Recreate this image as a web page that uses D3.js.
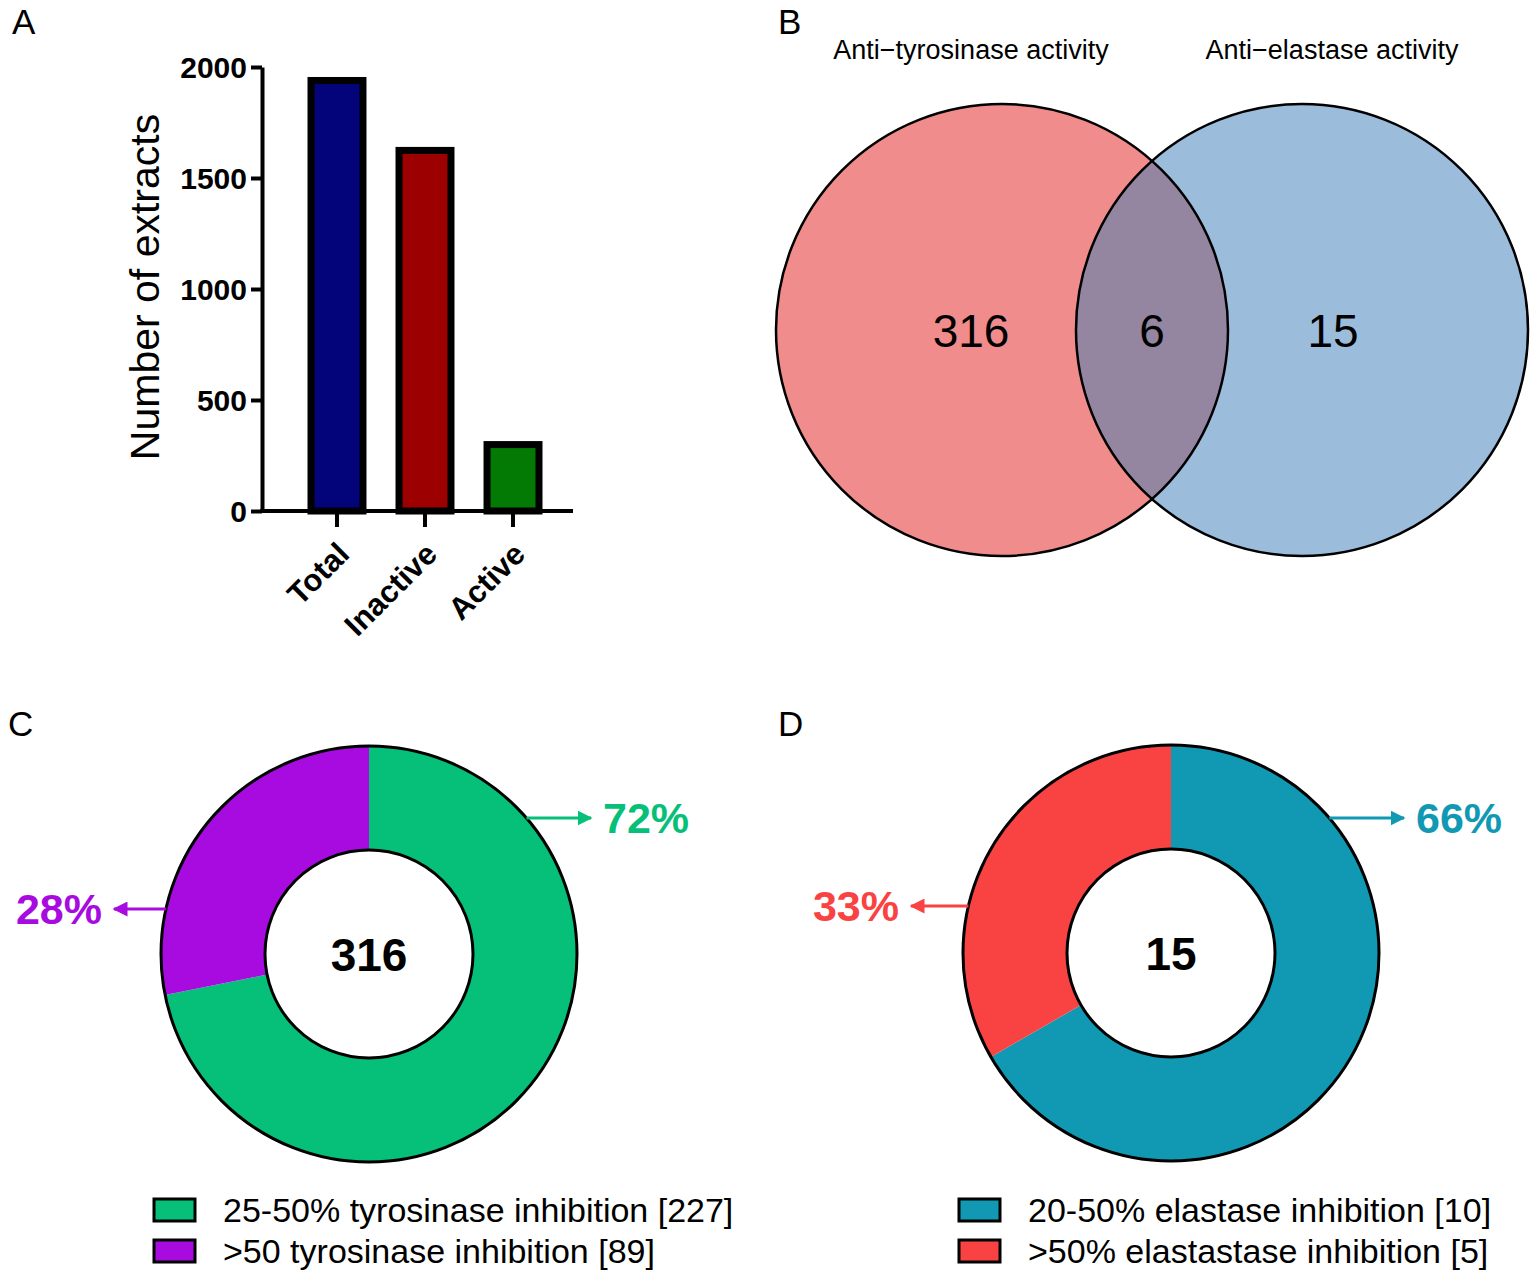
<!DOCTYPE html>
<html>
<head>
<meta charset="utf-8">
<script src="https://cdn.jsdelivr.net/npm/d3@7"></script>
<style>
body { margin: 0; background: #fff; }
svg { display: block; font-family: Arial, "Liberation Sans", sans-serif; }
</style>
</head>
<body>
<svg id="fig" width="1536" height="1274"></svg>
<script>
// panel A data
var barCats = ["Total", "Inactive", "Active"];
var barVals = [1955, 1640, 315];
var barColors = ["#03037a", "#9c0000", "#037a03"];
var yTicks = [0, 500, 1000, 1500, 2000];

// panel B data
var vennTitles = ["Anti\u2212tyrosinase activity", "Anti\u2212elastase activity"];
var vennCounts = [316, 6, 15];

// panel C data
var tyrLabels = ["25-50% tyrosinase inhibition [227]", ">50 tyrosinase inhibition [89]"];
var tyrVals = [227, 89];
var tyrPct = ["72%", "28%"];
var tyrColors = ["#06bf78", "#a70be0"];

// panel D data
var elaLabels = ["20-50% elastase inhibition [10]", ">50% elastastase inhibition [5]"];
var elaVals = [10, 5];
var elaPct = ["66%", "33%"];
var elaColors = ["#1199b4", "#f94343"];

var svg = d3.select("#fig");

// panel letters
var letters = [["A", 12, 34], ["B", 778, 34], ["C", 8, 736], ["D", 778, 736]];
svg.selectAll("text.letter").data(letters).enter().append("text")
    .attr("class", "letter")
    .attr("x", function(d) { return d[1]; })
    .attr("y", function(d) { return d[2]; })
    .style("font-size", "35px")
    .text(function(d) { return d[0]; });

// ---------- A: bar chart ----------
var x = d3.scaleBand().domain(barCats).range([263.5, 586.5]).paddingInner(0.33).paddingOuter(0.5);
var y = d3.scaleLinear().domain([0, 2000]).range([511, 67]);
var bw = 7;

var gA = svg.append("g");
gA.selectAll("rect.bar").data(barVals).enter().append("rect")
    .attr("class", "bar")
    .attr("x", function(d, i) { return x(barCats[i]) + bw / 2; })
    .attr("width", x.bandwidth() - bw)
    .attr("y", function(d) { return y(d) + bw / 2; })
    .attr("height", function(d) { return y(0) - y(d) - bw / 2; })
    .attr("fill", function(d, i) { return barColors[i]; })
    .attr("stroke", "#000")
    .attr("stroke-width", bw);

var yAxis = gA.append("g").attr("transform", "translate(262,0)")
    .call(d3.axisLeft(y).tickValues(yTicks).tickFormat(d3.format("d"))
        .tickSize(11).tickSizeOuter(0).tickPadding(4));
yAxis.select(".domain").attr("stroke-width", 4);
yAxis.selectAll(".tick line").attr("stroke-width", 4);
yAxis.selectAll(".tick text").style("font-size", "30px").style("font-weight", "bold")
    .attr("fill", "#000").attr("dy", "0.36em");

var xAxis = gA.append("g").attr("transform", "translate(0,511)")
    .call(d3.axisBottom(x).tickSize(16).tickSizeOuter(0).tickFormat(""));
xAxis.select(".domain").attr("stroke-width", 4).attr("d", "M260,0H573");
xAxis.selectAll(".tick line").attr("stroke-width", 4);

gA.selectAll("text.xlab").data(barCats).enter().append("text")
    .attr("class", "xlab")
    .attr("text-anchor", "end")
    .attr("transform", function(d) {
        return "translate(" + (x(d) + x.bandwidth() / 2 + 14) + ",556) rotate(-45)";
    })
    .style("font-size", "31px").style("font-weight", "bold")
    .text(function(d) { return d; });

gA.append("text")
    .attr("transform", "translate(159,287) rotate(-90)")
    .attr("text-anchor", "middle")
    .style("font-size", "41px")
    .text("Number of extracts");

// ---------- B: venn ----------
var vr = 226, vcy = 330;
var vcx = [1002, 1302];
var gB = svg.append("g");
var defs = svg.append("defs");
defs.append("clipPath").attr("id", "clipL").append("circle")
    .attr("cx", vcx[0]).attr("cy", vcy).attr("r", vr);

gB.append("circle").attr("cx", vcx[0]).attr("cy", vcy).attr("r", vr).attr("fill", "#f08c8c");
gB.append("circle").attr("cx", vcx[1]).attr("cy", vcy).attr("r", vr).attr("fill", "#9bbcda");
gB.append("circle").attr("cx", vcx[1]).attr("cy", vcy).attr("r", vr)
    .attr("fill", "#9485a0").attr("clip-path", "url(#clipL)");
gB.selectAll("circle.outline").data(vcx).enter().append("circle")
    .attr("class", "outline")
    .attr("cx", function(d) { return d; }).attr("cy", vcy).attr("r", vr)
    .attr("fill", "none").attr("stroke", "#000").attr("stroke-width", 2.5);

gB.selectAll("text.vtitle").data(vennTitles).enter().append("text")
    .attr("class", "vtitle")
    .attr("x", function(d, i) { return [971, 1332][i]; })
    .attr("y", 59)
    .attr("text-anchor", "middle")
    .style("font-size", "27px")
    .text(function(d) { return d; });

var countX = [971, 1152, 1333];
gB.selectAll("text.vcount").data(vennCounts).enter().append("text")
    .attr("class", "vcount")
    .attr("x", function(d, i) { return countX[i]; })
    .attr("y", vcy)
    .attr("dy", "0.36em")
    .attr("text-anchor", "middle")
    .style("font-size", "46px")
    .text(function(d) { return d; });

// ---------- C & D: donuts ----------
defs.selectAll("marker").data(tyrColors.concat(elaColors)).enter().append("marker")
    .attr("id", function(d, i) { return "arr" + i; })
    .attr("viewBox", "0 0 10 10").attr("refX", 9).attr("refY", 5)
    .attr("markerWidth", 5).attr("markerHeight", 5).attr("markerUnits", "strokeWidth")
    .attr("orient", "auto")
    .append("path").attr("d", "M0,0L10,5L0,10Z").attr("fill", function(d) { return d; });

function donut(cx, cy, vals, colors, total, pct, arrows, mk, legend, lx) {
    var R = 208, r = 104;
    var g = svg.append("g").attr("transform", "translate(" + cx + "," + cy + ")");
    var pie = d3.pie().sort(null)(vals);
    var arc = d3.arc().innerRadius(r).outerRadius(R);
    g.selectAll("path.slice").data(pie).enter().append("path")
        .attr("class", "slice")
        .attr("d", arc)
        .attr("fill", function(d, i) { return colors[i]; });
    g.selectAll("circle.ring").data([R, r]).enter().append("circle")
        .attr("class", "ring").attr("r", function(d) { return d; })
        .attr("fill", "none").attr("stroke", "#000").attr("stroke-width", 3);
    g.append("text").attr("text-anchor", "middle").attr("dy", "0.36em")
        .style("font-size", "46px").style("font-weight", "bold")
        .text(total);

    // percent callouts
    arrows.forEach(function(a, i) {
        var sx = a.side * Math.sqrt(R * R - a.dy * a.dy);
        g.append("line")
            .attr("x1", sx).attr("y1", a.dy).attr("x2", a.ex).attr("y2", a.dy)
            .attr("stroke", colors[i]).attr("stroke-width", 3)
            .attr("marker-end", "url(#arr" + (mk + i) + ")");
        g.append("text")
            .attr("x", a.ex + a.side * 12).attr("y", a.dy).attr("dy", "0.36em")
            .attr("text-anchor", a.side > 0 ? "start" : "end")
            .attr("fill", colors[i])
            .style("font-size", "43px").style("font-weight", "bold")
            .text(pct[i]);
    });

    var lg = svg.append("g");
    var rows = lg.selectAll("g").data(legend).enter().append("g")
        .attr("transform", function(d, i) { return "translate(" + lx + "," + (1199 + i * 41) + ")"; });
    rows.append("rect").attr("width", 41).attr("height", 22)
        .attr("fill", function(d, i) { return colors[i]; })
        .attr("stroke", "#000").attr("stroke-width", 3);
    rows.append("text").attr("x", 69).attr("y", 11).attr("dy", "0.36em")
        .style("font-size", "34px")
        .text(function(d) { return d; });
}

donut(369, 954, tyrVals, tyrColors, 316, tyrPct,
      [{dy: -136, side: 1, ex: 222}, {dy: -45, side: -1, ex: -255}], 0, tyrLabels, 154);
donut(1171, 953, elaVals, elaColors, 15, elaPct,
      [{dy: -135, side: 1, ex: 233}, {dy: -47, side: -1, ex: -260}], 2, elaLabels, 959);
</script>
</body>
</html>
